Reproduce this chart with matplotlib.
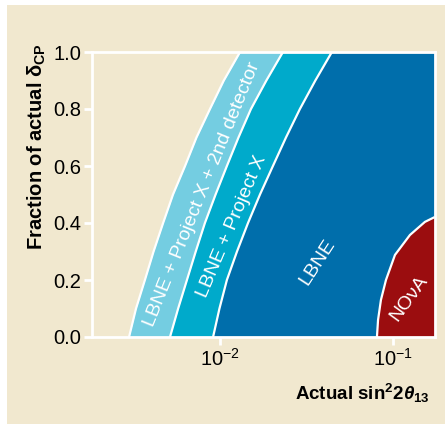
import matplotlib
matplotlib.use("Agg")
import matplotlib.pyplot as plt
from matplotlib.patches import Rectangle
from matplotlib.ticker import FixedLocator, NullLocator

plt.rcParams['font.family'] = ['Liberation Sans', 'DejaVu Sans']
plt.rcParams['mathtext.fontset'] = 'custom'
plt.rcParams['mathtext.rm'] = 'Liberation Sans'
plt.rcParams['mathtext.it'] = 'Liberation Sans:italic'
plt.rcParams['mathtext.bf'] = 'Liberation Sans:bold'
plt.rcParams['mathtext.bfit'] = 'Liberation Sans:bold:italic'

# ---- data ----
fraction = [0.0, 0.1, 0.2, 0.3, 0.4, 0.5, 0.6, 0.7, 0.8, 0.9, 1.0]
sin2_px2nd = [0.00298, 0.00327, 0.00368, 0.00413, 0.00469, 0.00535,
              0.00628, 0.00731, 0.00875, 0.01052, 0.01306]
sin2_px = [0.00514, 0.00573, 0.00644, 0.00724, 0.00818, 0.00943,
           0.01096, 0.01279, 0.01510, 0.01854, 0.02312]
sin2_lbne = [0.00912, 0.00993, 0.01096, 0.01254, 0.01452, 0.01703,
             0.02023, 0.02407, 0.02897, 0.03559, 0.04436]
nova_fraction = [0.0, 0.06, 0.13, 0.2, 0.288, 0.358, 0.404, 0.421]
sin2_nova = [0.0808, 0.0820, 0.0852, 0.0911, 0.1027, 0.1254, 0.1531, 0.1746]

band_labels = ["LBNE + Project X + 2nd detector", "LBNE + Project X", "LBNE", "NO\u03bdA"]
xticks = [0.01, 0.1]
yticks = [0.0, 0.2, 0.4, 0.6, 0.8, 1.0]
xlim = (0.00182, 0.175)

beige = '#F1E8CF'
c_light = '#74CDE1'
c_mid = '#00AACB'
c_dark = '#006EAB'
c_red = '#9B0D0F'

fig = plt.figure(figsize=(4.45, 4.24), dpi=100, facecolor='white')
fig.patches.append(Rectangle((7/445, 0), 1 - 7/445, 1 - 5/424, transform=fig.transFigure,
                             facecolor=beige, edgecolor='none', zorder=-10))

ax = fig.add_axes([92/445, 1 - 337/424, 343/445, 285/424])
ax.set_facecolor(beige)
ax.set_xscale('log')
ax.set_xlim(*xlim)
ax.set_ylim(0, 1)

xr = xlim[1]
ax.fill_betweenx(fraction, sin2_px2nd, [xr]*len(fraction), color=c_light, lw=0)
ax.fill_betweenx(fraction, sin2_px, [xr]*len(fraction), color=c_mid, lw=0)
ax.fill_betweenx(fraction, sin2_lbne, [xr]*len(fraction), color=c_dark, lw=0)
ax.fill_betweenx(nova_fraction, sin2_nova, [xr]*len(nova_fraction), color=c_red, lw=0)
for xs, ys in [(sin2_px2nd, fraction), (sin2_px, fraction), (sin2_lbne, fraction), (sin2_nova, nova_fraction)]:
    ax.plot(xs, ys, color='white', lw=1.6, solid_capstyle='butt', solid_joinstyle='round')

for s in ax.spines.values():
    s.set_color('white')
    s.set_linewidth(2)
    s.set_zorder(5)

ax.xaxis.set_major_locator(FixedLocator(xticks))
ax.xaxis.set_minor_locator(NullLocator())
ax.set_yticks(yticks)
ax.set_yticklabels([f"{v:.1f}" for v in yticks])
ax.tick_params(axis='both', which='major', direction='out', length=6, width=2,
               color='white', labelsize=14.5, labelcolor='black', pad=2)

tk = dict(color='white', fontsize=14, ha='center', va='center', transform=ax.transAxes)
ax.text(0.321, 0.502, band_labels[0], rotation=68, **tk)
ax.text(0.408, 0.389, band_labels[1], rotation=67, **tk)
ax.text(0.656, 0.263, band_labels[2], rotation=57, **tk)
ax.text(0.924, 0.137, band_labels[3], rotation=54, **tk)

fig.text(37/445, 1 - 43/424, r"Fraction of actual δ$_{\mathbf{CP}}$", rotation=90,
         ha='center', va='top', fontsize=14.5, fontweight='bold')
fig.text(430/445, 1 - 400/424,
         r"$\mathbf{Actual\ sin}^{\mathbf{2}}\mathbf{2}\mathbfit{\theta}_{\mathbf{13}}$",
         ha='right', va='baseline', fontsize=13.5)

fig.savefig('out.png', dpi=100, facecolor='white')
